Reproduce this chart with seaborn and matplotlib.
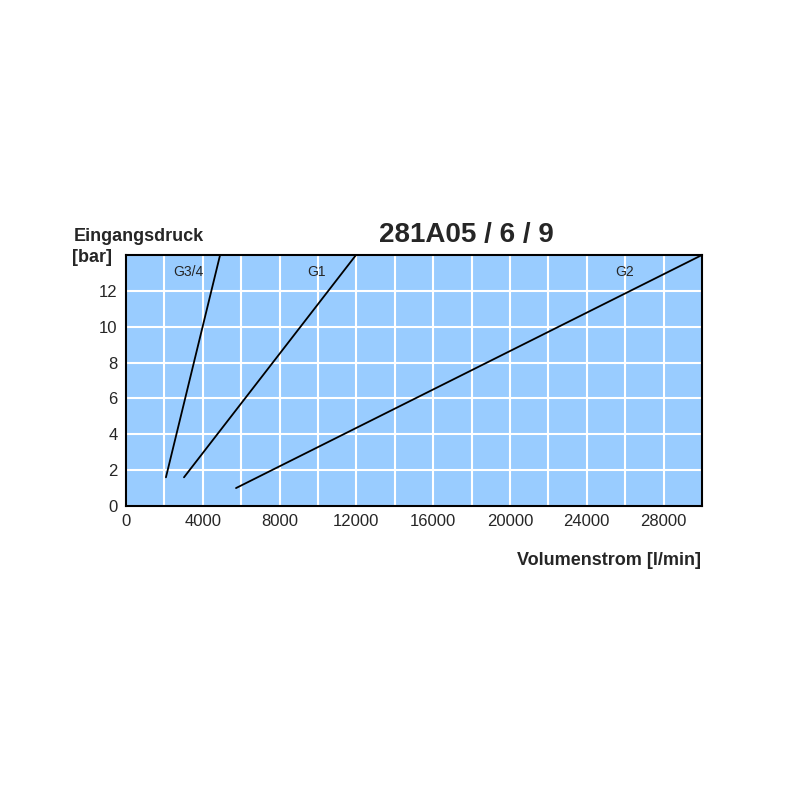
import matplotlib
matplotlib.use("Agg")
import matplotlib.pyplot as plt
import seaborn as sns
import pandas as pd

sns.set_style("white")
plt.rcParams['font.family'] = ['Liberation Sans', 'DejaVu Sans']

series = ["G3/4", "G1", "G2"]
x_start = [2080, 3020, 5730]
y_start = [1.6, 1.6, 1.0]
x_end = [4900, 11980, 30000]
y_end = [14, 14, 14]
label_x = [3230, 9900, 25990]
label_y = [13.05, 13.05, 13.05]
x_ticks = [0, 4000, 8000, 12000, 16000, 20000, 24000, 28000]
y_ticks = [0, 2, 4, 6, 8, 10, 12]

rows = []
for s, xs, ys, xe, ye in zip(series, x_start, y_start, x_end, y_end):
    rows.append({"s": s, "x": xs, "y": ys})
    rows.append({"s": s, "x": xe, "y": ye})
df = pd.DataFrame(rows)

fig = plt.figure(figsize=(8, 8), dpi=100)
ax = fig.add_axes([0.1575, 0.3675, 0.72, 0.31375])
ax.set_facecolor("#99CCFF")
ax.set_xlim(0, 30000)
ax.set_ylim(0, 14)
ax.set_xticks(range(0, 30001, 2000), minor=False)
ax.set_yticks(range(0, 15, 2))
ax.grid(True, color="white", linewidth=1.5)
ax.set_axisbelow(True)
sns.lineplot(data=df, x="x", y="y", units="s", estimator=None, color="black",
             linewidth=1.3, ax=ax, legend=False)
for s, lx, ly in zip(series, label_x, label_y):
    ax.text(lx, ly, s, ha="center", va="center", fontsize=10)
ax.set_xticklabels([str(v) if v in x_ticks else "" for v in range(0, 30001, 2000)], fontsize=12)
ax.set_yticklabels([str(v) if v in y_ticks else "" for v in range(0, 15, 2)], fontsize=12)
ax.tick_params(length=0, pad=6)
ax.set_xlabel(""); ax.set_ylabel("")
for sp in ax.spines.values():
    sp.set_color("black"); sp.set_linewidth(1.5)
fig.text(0.5825, 0.706, "281A05 / 6 / 9", ha="center", va="center", fontsize=20, fontweight="bold")
fig.text(0.092, 0.704, "Eingangsdruck", ha="left", va="center", fontsize=13, fontweight="bold")
fig.text(0.09, 0.678, "[bar]", ha="left", va="center", fontsize=13, fontweight="bold")
fig.text(0.876, 0.299, "Volumenstrom [l/min]", ha="right", va="center", fontsize=13, fontweight="bold")
fig.savefig("out.png", dpi=100)
